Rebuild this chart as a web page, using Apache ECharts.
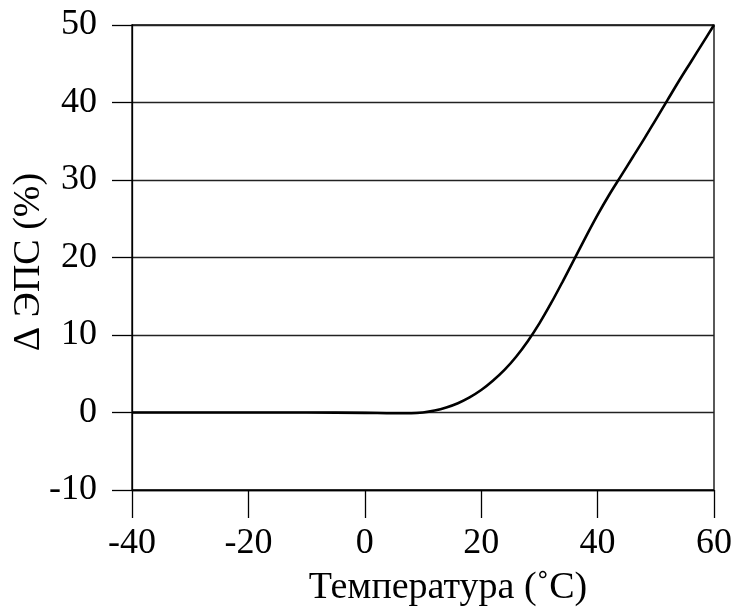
<!DOCTYPE html>
<html>
<head>
<meta charset="utf-8">
<script src="https://cdn.jsdelivr.net/npm/echarts@6/dist/echarts.min.js"></script>
<style>
  html, body { margin: 0; padding: 0; background: #fff; }
  #chart { width: 742px; height: 612px; }
</style>
</head>
<body>
<div id="chart"></div>
<script>
// Temperature, °C
const temperature = [-40, -30, -20, -10, 0, 5, 8, 10, 12, 14, 16, 18, 20, 22, 24, 26, 28, 30,
  32, 34, 36, 38, 40, 42, 44, 46, 48, 50, 52, 54, 56, 58, 60];
// Relative change of EMF, %
const deltaEmf = [0, 0, 0, 0, -0.05, -0.1, -0.1, 0.0, 0.25, 0.65, 1.2, 1.95, 2.9, 4.1, 5.5, 7.2, 9.2, 11.5,
  14.1, 16.9, 19.8, 22.7, 25.5, 28.1, 30.5, 32.9, 35.3, 37.8, 40.3, 42.8, 45.2, 47.6, 50];

const xTicks = { min: -40, max: 60, interval: 20 };
const yTicks = { min: -10, max: 50, interval: 10 };

const xTitle = 'Температура (˚C)';
const yTitle = 'Δ ЭПС (%)';

const serif = '"Liberation Serif", "DejaVu Serif", serif';

const chart = echarts.init(document.getElementById('chart'), null, { renderer: 'canvas' });

chart.setOption({
  animation: false,
  backgroundColor: '#fff',
  grid: {
    left: 132, right: 28, top: 25, bottom: 122,
    show: true, borderColor: '#000', borderWidth: 1.3,
    outerBoundsMode: 'none'
  },
  xAxis: {
    type: 'value',
    min: xTicks.min, max: xTicks.max, interval: xTicks.interval,
    axisLine: { show: true, onZero: false, lineStyle: { color: '#000', width: 1.3 } },
    axisTick: { show: true, inside: false, length: 28, lineStyle: { color: '#000', width: 1.3 } },
    axisLabel: { color: '#000', fontSize: 36, fontFamily: serif, margin: 36 },
    splitLine: { show: false }
  },
  yAxis: {
    type: 'value',
    min: yTicks.min, max: yTicks.max, interval: yTicks.interval,
    axisLine: { show: true, onZero: false, lineStyle: { color: '#000', width: 1.3 } },
    axisTick: { show: true, inside: false, length: 20, lineStyle: { color: '#000', width: 1.3 } },
    axisLabel: { color: '#000', fontSize: 36, fontFamily: serif, margin: 35 },
    splitLine: { show: true, lineStyle: { color: '#222', width: 1.3 } }
  },
  graphic: [
    {
      type: 'text',
      x: 448, y: 588,
      style: { text: xTitle, font: '38px ' + serif, fill: '#000', align: 'center', verticalAlign: 'middle' }
    },
    {
      type: 'text',
      x: 29, y: 262, rotation: Math.PI / 2,
      style: { text: yTitle, font: '38px ' + serif, fill: '#000', align: 'center', verticalAlign: 'middle' }
    }
  ],
  series: [{
    type: 'line',
    data: temperature.map((t, i) => [t, deltaEmf[i]]),
    smooth: 0.35,
    symbol: 'none',
    lineStyle: { color: '#000', width: 2.6 },
    z: 5
  }]
});
</script>
</body>
</html>
